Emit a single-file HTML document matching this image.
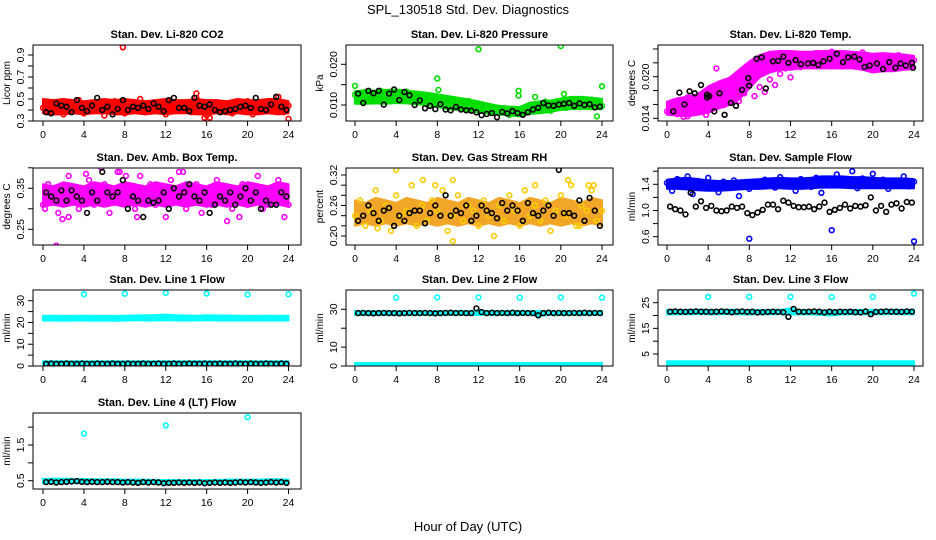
<!DOCTYPE html>
<html><head><meta charset="utf-8"><style>
html,body{margin:0;padding:0;background:#fff;}
svg{display:block;font-family:"Liberation Sans",sans-serif;}
</style></head><body>
<svg id="chart" width="936" height="540" viewBox="0 0 936 540" xmlns="http://www.w3.org/2000/svg">
<text x="468" y="14" text-anchor="middle" font-size="13">SPL_130518  Std. Dev. Diagnostics</text>
<text x="468" y="531" text-anchor="middle" font-size="13">Hour of Day (UTC)</text>
</svg>
<script>
const hourTicks = [0,4,8,12,16,20,24];
const bandHours = [0,1,2,3,4,5,6,7,8,9,10,11,12,13,14,15,16,17,18,19,20,21,22,23,24];

const co2Pts = [0.42,0.38,0.47,0.40,0.36,0.45,0.41,0.49,0.37,0.44,0.39,0.46,0.35,0.43,0.48,0.40,0.37,0.45,0.42,0.50,0.38,0.44,0.41,0.47,0.36,0.43,0.39,0.46,0.42,0.38,0.51,0.40,0.35,0.44,0.47,0.39,0.42,0.37,0.45,0.40,0.48,0.36,0.43,0.46,0.39,0.41,0.52,0.38,0.44];
const co2Black = [0.38,0.37,0.46,0.44,0.43,0.38,0.49,0.42,0.39,0.44,0.51,0.40,0.43,0.36,0.41,0.49,0.40,0.43,0.42,0.44,0.41,0.46,0.43,0.39,0.49,0.51,0.42,0.42,0.39,0.51,0.44,0.43,0.45,0.40,0.38,0.39,0.40,0.41,0.43,0.44,0.42,0.51,0.41,0.40,0.45,0.52,0.43,0.40];
const co2Lo = [0.37,0.36,0.36,0.37,0.36,0.37,0.37,0.36,0.36,0.37,0.36,0.37,0.36,0.37,0.37,0.36,0.36,0.37,0.36,0.37,0.36,0.36,0.37,0.36,0.37];
const co2Hi = [0.50,0.49,0.50,0.49,0.48,0.49,0.50,0.49,0.50,0.49,0.48,0.49,0.50,0.49,0.49,0.50,0.49,0.49,0.48,0.50,0.49,0.49,0.50,0.50,0.48];
const co2OutX = [7.8,15.0,24.0,15.8,16.3];
const co2OutY = [0.97,0.55,0.32,0.33,0.33];

const presPts = [12.5,11.8,13.2,11.0,12.4,13.5,11.6,12.9,11.2,12.0,13.3,11.5,12.7,10.9,12.2,11.4,10.6,11.8,9.8,11.2,10.4,9.5,11.0,10.1,8.8,9.9,8.3,9.4,8.0,9.1,7.6,8.7,7.9,9.2,8.4,10.2,9.0,10.8,8.6,9.7,10.5,9.3,11.1,10.0,10.7,9.6,11.3,10.2,9.8];
const presBlack = [12.8,10.5,13.5,12.9,13.5,10.1,12.8,13.8,11.2,13.2,12.4,10.0,11.1,9.2,9.8,9.0,10.2,8.9,8.7,9.5,8.9,8.7,8.6,8.2,7.5,7.8,8.0,7.0,8.3,7.9,8.5,8.0,7.6,8.2,8.9,9.3,10.5,9.9,9.8,10.1,10.3,10.5,9.8,10.4,10.0,10.2,9.4,9.6];
const presLo = [10.3,10.3,10.4,10.3,10.5,10.4,10.2,10.0,9.6,9.0,8.8,8.5,8.2,7.9,7.7,7.4,7.2,7.8,8.0,8.3,8.8,9.0,9.1,9.0,9.0];
const presHi = [13.4,13.6,13.5,13.7,13.8,13.5,13.3,13.0,12.6,12.2,11.8,11.4,10.9,10.3,9.8,9.6,9.5,10.6,10.9,11.1,11.6,12.0,12.0,11.8,11.5];
const presOutX = [0,4,8,8.1,12,15.9,15.9,20,20.3,24,23.5,17.5,1.2];
const presOutY = [14.7,25.5,16.5,13.7,23.7,13.5,12.3,24.5,12.7,14.6,7.2,12.0,13.0];

const tempPts = [15.0,16.2,14.6,15.8,17.0,14.8,15.6,16.9,15.2,16.4,17.3,15.9,16.8,18.2,16.5,17.6,19.0,17.2,18.5,17.8,19.6,18.8,20.4,21.2,19.9,22.1,21.4,22.8,21.6,23.4,22.2,21.8,23.6,22.4,21.5,23.0,22.6,21.9,23.5,22.3,21.2,22.9,21.7,22.5,21.4,23.1,22.0,21.6,22.4];
const tempBlackX = [0.6,1.2,1.7,2.2,2.7,3.3,3.9,3.9,4.1,4.6,5.1,5.6,6.2,6.7,7.3,7.9,8.0,8.7,9.2,9.6,10.3,10.8,11.3,11.8,12.5,13.0,13.7,14.2,14.7,15.2,15.8,16.5,17.1,17.6,18.2,18.7,19.2,19.7,20.4,21.0,21.6,22.2,22.7,23.2,23.8,23.9];
const tempBlackY = [15.0,17.7,16.0,17.9,17.6,18.8,17.0,17.4,17.2,15.0,17.6,14.5,16.2,15.8,18.1,19.8,18.7,22.6,22.8,18.3,22.2,22.3,22.9,22.0,22.4,21.8,21.9,22.0,21.7,22.2,22.6,23.3,22.1,22.8,22.9,22.5,21.4,21.6,21.9,21.1,22.1,21.3,21.9,21.6,22.0,21.3];
const tempLo = [14.5,14.4,14.3,14.5,14.8,15.4,15.9,16.7,18.3,19.9,20.6,21.0,21.0,21.2,21.2,21.2,21.2,21.2,21.2,21.0,20.6,20.8,20.8,21.0,21.1];
const tempHi = [16.4,16.9,17.1,17.5,18.6,19.3,19.8,21.0,22.2,23.1,23.6,23.7,23.7,23.6,23.6,23.7,23.7,23.7,23.6,23.5,23.3,23.4,23.3,23.2,23.0];
const tempOutX = [4.8,1.6,2.0,3.8];
const tempOutY = [21.2,14.2,14.3,14.5];

const boxPts = [0.31,0.36,0.33,0.29,0.35,0.38,0.32,0.30,0.34,0.37,0.31,0.33,0.36,0.29,0.34,0.39,0.32,0.35,0.30,0.38,0.33,0.36,0.31,0.34,0.28,0.37,0.32,0.35,0.30,0.33,0.36,0.29,0.34,0.31,0.37,0.32,0.35,0.30,0.33,0.36,0.31,0.34,0.38,0.30,0.35,0.32,0.37,0.33,0.31];
const boxBlack = [0.34,0.33,0.32,0.345,0.32,0.345,0.33,0.32,0.29,0.34,0.32,0.39,0.34,0.33,0.34,0.37,0.30,0.33,0.32,0.28,0.32,0.315,0.32,0.34,0.30,0.35,0.33,0.34,0.36,0.33,0.32,0.34,0.29,0.31,0.33,0.32,0.34,0.31,0.33,0.35,0.32,0.34,0.30,0.32,0.31,0.31,0.34,0.33];
const boxLo = [0.305,0.31,0.305,0.31,0.305,0.31,0.305,0.31,0.305,0.31,0.305,0.31,0.305,0.31,0.305,0.31,0.305,0.31,0.305,0.31,0.305,0.31,0.305,0.31,0.305];
const boxHi = [0.36,0.355,0.365,0.36,0.355,0.365,0.36,0.355,0.365,0.36,0.355,0.365,0.36,0.355,0.365,0.36,0.355,0.365,0.36,0.355,0.365,0.36,0.355,0.365,0.36];
const boxOutX = [1.3,1.9,2.5,18.0,19.2,23.6,5.7,7.3,8.1,13.3,13.7,9.2,0.2,4.2];
const boxOutY = [0.21,0.275,0.28,0.27,0.28,0.28,0.40,0.39,0.38,0.39,0.39,0.28,0.30,0.385];

const rhPts = [0.24,0.27,0.22,0.25,0.29,0.23,0.26,0.21,0.28,0.24,0.25,0.30,0.22,0.26,0.23,0.27,0.25,0.29,0.21,0.24,0.28,0.23,0.26,0.25,0.22,0.27,0.24,0.20,0.26,0.23,0.28,0.25,0.22,0.29,0.24,0.26,0.23,0.27,0.21,0.25,0.28,0.24,0.30,0.22,0.26,0.25,0.29,0.23,0.25];
const rhBlack = [0.23,0.24,0.26,0.245,0.23,0.25,0.255,0.22,0.24,0.23,0.245,0.25,0.25,0.225,0.245,0.26,0.24,0.28,0.24,0.25,0.245,0.26,0.23,0.24,0.26,0.25,0.245,0.235,0.265,0.25,0.26,0.25,0.23,0.265,0.245,0.24,0.25,0.26,0.24,0.33,0.245,0.245,0.24,0.27,0.23,0.275,0.25,0.22];
const rhLo = [0.22,0.225,0.22,0.225,0.22,0.225,0.22,0.225,0.22,0.225,0.22,0.225,0.22,0.225,0.22,0.225,0.22,0.225,0.22,0.225,0.22,0.225,0.22,0.225,0.22];
const rhHi = [0.27,0.265,0.275,0.27,0.265,0.275,0.27,0.265,0.275,0.27,0.265,0.275,0.27,0.265,0.275,0.27,0.265,0.275,0.27,0.265,0.275,0.27,0.265,0.275,0.27];
const rhOutX = [4.0,9.5,9.5,6.6,7.8,17.5,20.7,23.2,22.7,21.8,2.2];
const rhOutY = [0.33,0.19,0.31,0.31,0.30,0.30,0.31,0.30,0.30,0.22,0.215];

const flowPts = [1.42,1.30,1.48,1.38,1.52,1.25,1.45,1.35,1.50,1.40,1.28,1.44,1.36,1.46,1.22,1.40,1.33,1.43,1.37,1.47,1.41,1.35,1.51,1.39,1.45,1.30,1.48,1.42,1.36,1.50,1.27,1.44,1.41,1.55,1.38,1.46,1.60,1.34,1.49,1.43,1.56,1.39,1.47,1.33,1.45,1.41,1.52,1.37,1.44];
const flowBlack = [1.06,1.02,1.00,0.94,1.27,1.06,1.14,1.04,1.07,1.00,0.99,1.00,1.06,1.04,1.06,0.96,0.93,0.97,1.01,1.09,1.09,1.02,1.15,1.12,1.07,1.05,1.05,1.06,1.02,1.06,1.12,0.98,1.01,1.04,1.09,1.03,1.07,1.06,1.08,1.20,1.00,1.07,0.98,1.09,1.11,1.03,1.13,1.12];
const flowLo = [1.33,1.33,1.32,1.31,1.30,1.30,1.31,1.32,1.33,1.33,1.34,1.34,1.33,1.33,1.34,1.35,1.35,1.35,1.34,1.34,1.34,1.34,1.34,1.34,1.34];
const flowHi = [1.47,1.49,1.50,1.48,1.46,1.45,1.45,1.46,1.47,1.48,1.49,1.50,1.49,1.49,1.50,1.52,1.52,1.52,1.51,1.51,1.50,1.49,1.49,1.49,1.48];
const flowOutX = [8.0,16.0,24.0];
const flowOutY = [0.57,0.70,0.53];

const l1Black = [1.0,1.1,1.0,1.0,1.1,1.0,1.0,1.1,1.0,1.0,1.1,1.0,1.0,1.1,1.0,1.0,1.1,1.0,1.0,1.1,1.0,1.0,1.1,1.0,1.0,1.1,1.0,1.0,1.1,1.0,1.0,1.1,1.0,1.0,1.1,1.0,1.0,1.1,1.0,1.0,1.1,1.0,1.0,1.1,1.0,1.0,1.1,1.0];
const l1Lo = [20.9,20.9,20.8,20.9,20.9,20.8,20.9,20.8,20.9,21.0,20.9,20.9,21.0,20.9,20.9,20.9,21.0,20.9,20.9,20.9,20.9,20.9,20.9,20.9,20.9];
const l1Hi = [23.0,23.1,23.0,23.0,23.1,23.0,23.0,23.0,23.1,23.2,23.3,23.4,23.6,23.3,23.2,23.1,23.3,23.2,23.2,23.1,23.0,23.0,23.1,23.0,23.1];
const l1Lo2 = [0.8,0.8,0.8,0.8,0.8,0.8,0.8,0.8,0.8,0.8,0.8,0.8,0.8,0.8,0.8,0.8,0.8,0.8,0.8,0.8,0.8,0.8,0.8,0.8,0.8];
const l1Hi2 = [2.2,2.2,2.2,2.2,2.2,2.2,2.2,2.2,2.2,2.2,2.2,2.2,2.2,2.2,2.2,2.2,2.2,2.2,2.2,2.2,2.2,2.2,2.2,2.2,2.2];
const l1OutX = [4,8,12,16,20,24];
const l1OutY = [33.0,33.2,33.6,33.3,32.8,33.0];

const l2Black = [28.0,28.1,28.0,27.9,28.0,28.1,28.0,28.0,27.9,28.0,28.1,28.0,28.0,28.1,28.0,27.9,28.0,28.1,28.2,28.0,28.1,28.0,28.0,30.5,28.5,28.0,28.2,28.0,28.1,28.0,28.2,28.0,28.1,28.0,28.0,26.8,28.0,28.2,28.0,28.1,28.0,28.0,28.1,28.0,28.2,28.0,28.1,28.0];
const l2Lo = [27.0,27.1,27.0,27.1,27.0,27.1,27.0,27.1,27.0,27.1,27.0,27.1,27.0,27.1,27.0,27.1,27.0,27.1,26.5,27.1,27.0,27.1,27.0,27.1,27.0];
const l2Hi = [29.1,29.0,29.1,29.0,29.1,29.0,29.1,29.0,29.1,29.0,29.1,29.0,29.6,29.0,29.1,29.0,29.1,29.0,29.1,29.0,29.1,29.0,29.1,29.0,29.1];
const l2Lo2 = [0,0,0,0,0,0,0,0,0,0,0,0,0,0,0,0,0,0,0,0,0,0,0,0,0];
const l2Hi2 = [1.6,1.6,1.6,1.6,1.6,1.6,1.6,1.6,1.6,1.6,1.6,1.6,1.6,1.6,1.6,1.6,1.6,1.6,1.6,1.6,1.6,1.6,1.6,1.6,1.6];
const l2OutX = [4,8,12,16,20,24];
const l2OutY = [36.2,36.3,36.3,36.2,36.3,36.2];

const l3Black = [21.5,21.6,21.5,21.4,21.5,21.6,21.5,21.5,21.4,21.5,21.6,21.5,21.3,21.5,21.6,21.4,21.5,21.2,21.3,21.4,21.5,21.4,21.3,19.5,22.6,21.5,21.4,21.5,21.6,21.5,21.2,21.5,21.3,21.5,21.4,21.5,21.3,21.2,21.6,20.5,21.4,21.5,21.6,21.5,21.5,21.4,21.6,21.5];
const l3Lo = [20.4,20.5,20.5,20.6,20.5,20.5,20.6,20.5,20.4,20.5,20.5,20.5,20.4,20.5,20.4,20.2,20.0,20.4,20.5,20.5,20.5,20.5,20.6,20.5,20.5];
const l3Hi = [22.2,22.2,22.2,22.3,22.2,22.2,22.3,22.2,22.1,22.2,22.2,22.2,22.8,22.2,22.1,22.0,22.0,22.1,22.2,22.2,22.2,22.2,22.3,22.2,22.3];
const l3Lo2 = [0.4,0.4,0.4,0.4,0.4,0.4,0.4,0.4,0.4,0.4,0.4,0.4,0.4,0.4,0.4,0.4,0.4,0.4,0.4,0.4,0.4,0.4,0.4,0.4,0.4];
const l3Hi2 = [2.2,2.2,2.2,2.2,2.2,2.2,2.2,2.2,2.2,2.2,2.2,2.2,2.2,2.2,2.2,2.2,2.2,2.2,2.2,2.2,2.2,2.2,2.2,2.2,2.2];
const l3OutX = [4,8,12,16,20,24];
const l3OutY = [27.3,27.3,27.3,27.2,27.3,28.6];

const l4Black = [0.46,0.47,0.45,0.46,0.47,0.48,0.49,0.47,0.46,0.47,0.46,0.46,0.47,0.46,0.46,0.45,0.46,0.45,0.44,0.46,0.45,0.46,0.45,0.43,0.44,0.44,0.45,0.44,0.45,0.44,0.45,0.43,0.44,0.45,0.44,0.45,0.44,0.45,0.46,0.45,0.46,0.45,0.44,0.45,0.46,0.45,0.46,0.44];
const l4Lo = [0.43,0.43,0.43,0.43,0.43,0.43,0.43,0.43,0.42,0.42,0.42,0.42,0.41,0.41,0.41,0.41,0.42,0.42,0.42,0.42,0.42,0.42,0.42,0.42,0.42];
const l4Hi = [0.55,0.56,0.56,0.55,0.55,0.54,0.54,0.54,0.53,0.53,0.53,0.52,0.52,0.52,0.52,0.52,0.52,0.52,0.53,0.53,0.53,0.53,0.54,0.54,0.53];
const l4OutX = [4,12,20];
const l4OutY = [1.82,2.05,2.28];

const NS = 'http://www.w3.org/2000/svg';
const svg = document.getElementById('chart');
function mk(tag, attrs, parent){ const e=document.createElementNS(NS,tag); for(const k in attrs) e.setAttribute(k,attrs[k]); (parent||svg).appendChild(e); return e; }

const halfHours = []; for(let i=0;i<49;i++) halfHours.push(i*0.5);
const blackHours = []; for(let i=0;i<48;i++) blackHours.push(i*0.5+0.3);

function panel(c){
  const g = mk('g',{});
  
  
  const [L,T,R,B] = c.box;
  const xs = h => c.x0 + (c.x24-c.x0)*h/24;
  const ys = v => c.yA[1] + (v-c.yA[0])*(c.yB[1]-c.yA[1])/(c.yB[0]-c.yA[0]);
  const clip = mk('clipPath',{id:'clip-'+c.id},g);
  mk('rect',{x:L,y:T,width:R-L,height:B-T},clip);
  const plot = mk('g',{'clip-path':'url(#clip-'+c.id+')'},g);
  
  
  const band = (lo,hi,name)=>{
    let pts=[];
    bandHours.forEach((h,i)=>pts.push(xs(h).toFixed(1)+','+ys(hi[i]).toFixed(1)));
    for(let i=bandHours.length-1;i>=0;i--) pts.push(xs(bandHours[i]).toFixed(1)+','+ys(lo[i]).toFixed(1));
    const p = mk('polygon',{points:pts.join(' '),fill:c.bandColor||c.color,stroke:c.bandColor||c.color,'stroke-width':2,'stroke-linejoin':'round'},plot);
    
    
  };
  band(c.lo,c.hi,c.id+'-band');
  if(c.lo2) band(c.lo2,c.hi2,c.id+'-low-band');
  const dot=(x,y,col,name)=>{
    const e = mk('circle',{cx:xs(x).toFixed(1),cy:ys(y).toFixed(1),r:2.4,fill:'none',stroke:col,'stroke-width':1.6},plot);
    
    
  };
  if(c.pts) c.pts.forEach((v,i)=>dot(halfHours[i],v,c.ptColor||c.color,c.id+'-point'));
  if(c.outX) c.outX.forEach((x,i)=>dot(x,c.outY[i],c.ptColor||c.color,c.id+'-outlier'));
  const bx = c.blackX||blackHours;
  c.black.forEach((v,i)=>dot(bx[i],v,'#000',c.id+'-black-point'));
  const frame = mk('rect',{x:L,y:T,width:R-L,height:B-T,fill:'none',stroke:'#000','stroke-width':1},g);
  
  
  const tt = mk('text',{x:(L+R)/2,y:T-7,'text-anchor':'middle','font-size':11,'font-weight':'bold'},g);
  tt.textContent=c.title;
  
  
  mk('line',{x1:xs(0),x2:xs(24),y1:B,y2:B,stroke:'#000'},g);
  hourTicks.forEach(h=>{
    mk('line',{x1:xs(h),x2:xs(h),y1:B,y2:B+5,stroke:'#000'},g);
    const t=mk('text',{x:xs(h),y:B+17,'text-anchor':'middle','font-size':10.5},g);
    t.textContent=h;
    
    
  });
  mk('line',{x1:L,x2:L,y1:ys(c.ticks[0]),y2:ys(c.ticks[c.ticks.length-1]),stroke:'#000'},g);
  c.ticks.forEach(v=>mk('line',{x1:L-5,x2:L,y1:ys(v),y2:ys(v),stroke:'#000'},g));
  c.labels.forEach((lab,i)=>{
    const y=ys(c.labelVals[i]);
    const t=mk('text',{x:L-9,y:y,'text-anchor':'middle','font-size':10.5,transform:'rotate(-90 '+(L-9)+' '+y+')'},g);
    t.textContent=lab;
    
    
  });
  const ym=(T+B)/2, yx=L-23;
  const yl=mk('text',{x:yx,y:ym,'text-anchor':'middle','font-size':10,transform:'rotate(-90 '+yx+' '+ym+')'},g);
  yl.textContent=c.ylab;
  
  
}
const C1=[33,301,43,288.5], C2=[346,613,355,602], C3=[658,923,667,914];
const R1=[45,121], R2=[168,245], R3=[290,366], R4=[413,489];
function bx(C,Rw){return [C[0],Rw[0],C[1],Rw[1]];}

panel({id:'co2',title:'Stan. Dev. Li-820 CO2',ylab:'Licor ppm',box:bx(C1,R1),x0:C1[2],x24:C1[3],yA:[0.9,55],yB:[0.3,121],
  ticks:[0.3,0.4,0.5,0.6,0.7,0.8,0.9],labelVals:[0.3,0.5,0.7,0.9],labels:['0.3','0.5','0.7','0.9'],
  color:'#ff0000',lo:co2Lo,hi:co2Hi,pts:co2Pts,outX:co2OutX,outY:co2OutY,black:co2Black});
panel({id:'pressure',title:'Stan. Dev. Li-820 Pressure',ylab:'kPa',box:bx(C2,R1),x0:C2[2],x24:C2[3],yA:[10,105],yB:[20,64.3],
  ticks:[10,15,20],labelVals:[10,20],labels:['0.010','0.020'],
  color:'#00dd00',lo:presLo,hi:presHi,pts:presPts,outX:presOutX,outY:presOutY,black:presBlack});
panel({id:'temp',title:'Stan. Dev. Li-820 Temp.',ylab:'degrees C',box:bx(C3,R1),x0:C3[2],x24:C3[3],yA:[14,118.3],yB:[20,76.7],
  ticks:[14,16,18,20,22,24],labelVals:[14,20],labels:['0.014','0.020'],
  color:'#ff00ff',lo:tempLo,hi:tempHi,pts:tempPts,outX:tempOutX,outY:tempOutY,black:tempBlackY,blackX:tempBlackX});
panel({id:'box-temp',title:'Stan. Dev. Amb. Box Temp.',ylab:'degrees C',box:bx(C1,R2),x0:C1[2],x24:C1[3],yA:[0.25,229.3],yB:[0.35,188.3],
  ticks:[0.25,0.30,0.35,0.40],labelVals:[0.25,0.35],labels:['0.25','0.35'],
  color:'#ff00ff',lo:boxLo,hi:boxHi,pts:boxPts,outX:boxOutX,outY:boxOutY,black:boxBlack});
panel({id:'gas-rh',title:'Stan. Dev. Gas Stream RH',ylab:'percent',box:bx(C2,R2),x0:C2[2],x24:C2[3],yA:[0.20,236],yB:[0.32,175],
  ticks:[0.20,0.22,0.24,0.26,0.28,0.30,0.32],labelVals:[0.20,0.26,0.32],labels:['0.20','0.26','0.32'],
  color:'#f0a020',bandColor:'#f2a628',ptColor:'#ffcc00',lo:rhLo,hi:rhHi,pts:rhPts,outX:rhOutX,outY:rhOutY,black:rhBlack});
panel({id:'sample-flow',title:'Stan. Dev. Sample Flow',ylab:'ml/min',box:bx(C3,R2),x0:C3[2],x24:C3[3],yA:[0.6,236.7],yB:[1.4,184.3],
  ticks:[0.6,0.8,1.0,1.2,1.4,1.6],labelVals:[0.6,1.0,1.4],labels:['0.6','1.0','1.4'],
  color:'#0000ff',lo:flowLo,hi:flowHi,pts:flowPts,outX:flowOutX,outY:flowOutY,black:flowBlack});
panel({id:'line1',title:'Stan. Dev. Line 1 Flow',ylab:'ml/min',box:bx(C1,R3),x0:C1[2],x24:C1[3],yA:[0,366],yB:[30,300.7],
  ticks:[0,5,10,15,20,25,30],labelVals:[0,10,20,30],labels:['0','10','20','30'],
  color:'#00ffff',lo:l1Lo,hi:l1Hi,lo2:l1Lo2,hi2:l1Hi2,outX:l1OutX,outY:l1OutY,black:l1Black});
panel({id:'line2',title:'Stan. Dev. Line 2 Flow',ylab:'ml/min',box:bx(C2,R3),x0:C2[2],x24:C2[3],yA:[0,366],yB:[30,309.3],
  ticks:[0,10,20,30],labelVals:[0,10,30],labels:['0','10','30'],
  color:'#00ffff',lo:l2Lo,hi:l2Hi,lo2:l2Lo2,hi2:l2Hi2,outX:l2OutX,outY:l2OutY,black:l2Black});
panel({id:'line3',title:'Stan. Dev. Line 3 Flow',ylab:'ml/min',box:bx(C3,R3),x0:C3[2],x24:C3[3],yA:[5,354],yB:[25,302.7],
  ticks:[5,10,15,20,25],labelVals:[5,15,25],labels:['5','15','25'],
  color:'#00ffff',lo:l3Lo,hi:l3Hi,lo2:l3Lo2,hi2:l3Hi2,outX:l3OutX,outY:l3OutY,black:l3Black});
panel({id:'line4',title:'Stan. Dev. Line 4 (LT) Flow',ylab:'ml/min',box:bx(C1,R4),x0:C1[2],x24:C1[3],yA:[0.5,480.7],yB:[1.5,445],
  ticks:[0.5,1.0,1.5,2.0],labelVals:[0.5,1.5],labels:['0.5','1.5'],
  color:'#00ffff',lo:l4Lo,hi:l4Hi,outX:l4OutX,outY:l4OutY,black:l4Black});
</script>
</body></html>
